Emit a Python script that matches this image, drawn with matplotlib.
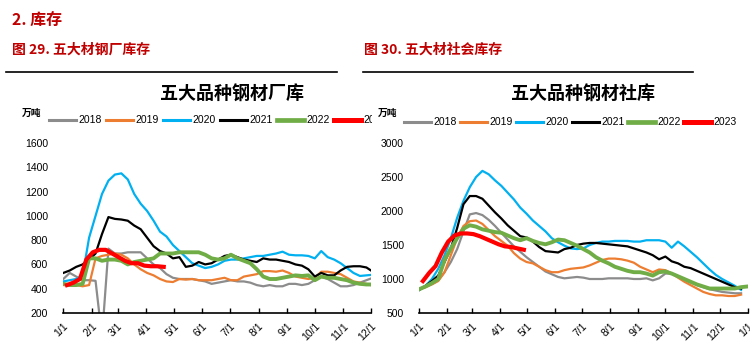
import numpy as np
import matplotlib
matplotlib.use("Agg")
from matplotlib import pyplot as plt
from matplotlib.lines import Line2D

plt.rcParams['font.family'] = ['Liberation Sans', 'Noto Sans CJK SC', 'DejaVu Sans']

years = ['2018', '2019', '2020', '2021', '2022', '2023']
colors = ['#8C8C8C', '#ED7D31', '#00B0F0', '#000000', '#70AD47', '#FF0000']
widths = [1.6, 1.6, 1.6, 1.6, 2.8, 3.0]
# first weekly observation, day of year
start_day = [0, 0, 0, 0, 0, 4]

month_days = [0, 31, 59, 90, 120, 151, 181, 212, 243, 273, 304, 334, 365]
month_labels = ['1/1', '2/1', '3/1', '4/1', '5/1', '6/1', '7/1', '8/1',
                '9/1', '10/1', '11/1', '12/1', '1/1']

# 钢厂库存 (万吨), weekly
mill_2018 = [480, 530, 500, 470, 470, 465, 0, 730, 690, 690, 700, 700, 700, 650, 600, 570,
             520, 490, 480, 480, 480, 470, 460, 440, 450, 460, 470, 460, 460, 450, 430, 420,
             430, 420, 420, 440, 440, 430, 440, 470, 500, 480, 450, 420, 420, 430, 450, 470, 490]
mill_2019 = [430, 430, 430, 420, 430, 650, 670, 680, 690, 680, 650, 600, 560, 530, 510, 480,
             460, 455, 480, 475, 480, 470, 470, 470, 480, 490, 470, 470, 500, 510, 520, 545,
             545, 540, 550, 530, 500, 490, 480, 490, 540, 540, 530, 520, 490, 460, 450, 440, 425]
mill_2020 = [460, 470, 480, 510, 820, 1000, 1180, 1290, 1340, 1350, 1300, 1180, 1100, 1040, 960, 870,
             830, 760, 710, 660, 610, 590, 570, 580, 600, 630, 640, 640, 650, 660, 670, 670,
             680, 690, 705, 680, 675, 675, 670, 650, 710, 660, 640, 610, 570, 530, 505, 510, 515]
mill_2021 = [530, 550, 580, 600, 640, 690, 850, 990, 975, 970, 960, 920, 890, 820, 750, 710,
             690, 650, 660, 580, 590, 620, 600, 610, 640, 670, 680, 660, 640, 630, 620, 650,
             640, 640, 630, 620, 600, 590, 560, 500, 530, 510, 510, 550, 580, 585, 585, 575, 540]
mill_2022 = [440, 430, 430, 440, 650, 650, 630, 640, 640, 630, 600, 620, 630, 640, 650, 690,
             690, 690, 700, 700, 700, 700, 680, 650, 640, 650, 680, 650, 630, 610, 560, 500,
             480, 480, 490, 500, 510, 505, 510, 470, 500, 490, 490, 480, 470, 450, 440, 435, 435]
mill_2023 = [430, 450, 480, 640, 700, 720, 720, 690, 660, 630, 610, 610, 590, 585, 585, 580]

# 社会库存 (万吨), weekly
soc_2018 = [850, 890, 930, 980, 1100, 1250, 1440, 1700, 1950, 1970, 1940, 1870, 1780, 1680, 1580, 1480,
            1400, 1320, 1250, 1180, 1110, 1070, 1030, 1010, 1020, 1030, 1020, 1000, 1000, 1000, 1010, 1010,
            1010, 1010, 1000, 1000, 1010, 980, 1010, 1080, 1080, 1040, 990, 950, 910, 880, 850, 830,
            810, 800, 790, 790]
soc_2019 = [850, 880, 920, 970, 1100, 1350, 1600, 1780, 1850, 1860, 1810, 1720, 1630, 1560, 1490, 1380,
            1300, 1250, 1230, 1180, 1130, 1100, 1100, 1130, 1150, 1160, 1170, 1200, 1240, 1280, 1300, 1300,
            1290, 1270, 1240, 1180, 1140, 1100, 1140, 1130, 1080, 1020, 960, 910, 860, 810, 780, 760,
            760, 750, 750, 770]
soc_2020 = [840, 900, 1000, 1150, 1350, 1600, 1900, 2150, 2350, 2500, 2590, 2540, 2450, 2370, 2270, 2170,
            2050, 1960, 1860, 1780, 1700, 1600, 1540, 1490, 1450, 1440, 1450, 1500, 1530, 1550, 1550, 1560,
            1560, 1560, 1550, 1550, 1570, 1570, 1570, 1550, 1460, 1550, 1480, 1400, 1320, 1230, 1140, 1060,
            1000, 950, 900, 840]
soc_2021 = [840, 900, 970, 1050, 1250, 1450, 1750, 2100, 2220, 2220, 2180, 2080, 1980, 1890, 1790, 1710,
            1630, 1610, 1550, 1470, 1410, 1400, 1390, 1440, 1460, 1500, 1520, 1530, 1530, 1520, 1510, 1500,
            1490, 1480, 1450, 1420, 1390, 1350, 1290, 1330, 1260, 1230, 1180, 1160, 1120, 1080, 1040, 1000,
            960, 920, 880, 860]
soc_2022 = [850, 890, 940, 1000, 1280, 1450, 1600, 1740, 1790, 1770, 1730, 1710, 1690, 1680, 1640, 1600,
            1570, 1600, 1560, 1530, 1510, 1540, 1580, 1570, 1530, 1490, 1440, 1390, 1320, 1270, 1230, 1180,
            1150, 1120, 1100, 1100, 1080, 1050, 1100, 1110, 1080, 1040, 1000, 960, 920, 890, 860, 860,
            860, 860, 860, 880, 890]
soc_2023 = [970, 1090, 1190, 1390, 1550, 1640, 1670, 1670, 1660, 1630, 1590, 1550, 1510, 1480, 1470, 1450, 1430]

mill = [mill_2018, mill_2019, mill_2020, mill_2021, mill_2022, mill_2023]
soc = [soc_2018, soc_2019, soc_2020, soc_2021, soc_2022, soc_2023]

RED = '#C00000'
CJK = ['Noto Sans CJK SC', 'DejaVu Sans']

fig = plt.figure(figsize=(7.5, 3.49), dpi=100)


def px(x, y):
    return x / 750, 1 - y / 349


def draw_panel(rect, series, ylim, yticks, xmax, ticks, labels):
    ax = fig.add_axes(rect)
    for vals, c, w, s in zip(series, colors, widths, start_day):
        x = s + 7 * np.arange(len(vals))
        ax.plot(x, vals, color=c, lw=w, solid_joinstyle='round')
    ax.set_xlim(0, xmax)
    ax.set_ylim(*ylim)
    ax.set_yticks(yticks)
    ax.set_xticks(ticks)
    ax.set_xticklabels(labels, rotation=45, ha='right', va='top',
                       rotation_mode='anchor')
    for sp in ['top', 'right', 'left']:
        ax.spines[sp].set_visible(False)
    ax.spines['bottom'].set_linewidth(1.2)
    ax.tick_params(axis='x', direction='in', length=3.5, width=1, labelsize=7.5, pad=6)
    ax.tick_params(axis='y', length=0, labelsize=7.5, pad=11)
    ax.patch.set_alpha(0)
    return ax


draw_panel([63.3 / 750, 1 - 313 / 349, 307.7 / 750, 170 / 349], mill,
           (200, 1600), range(200, 1601, 200), 334, month_days[:12], month_labels[:12])
draw_panel([419.3 / 750, 1 - 313 / 349, 329 / 750, 170 / 349], soc,
           (500, 3000), range(500, 3001, 500), 365, month_days, month_labels)

# headings
fig.text(*px(12, 20), '2. 库存', color=RED, fontsize=11.5, fontweight='bold',
         family=CJK, va='center')
fig.text(*px(12, 50), '图 29. 五大材钢厂库存', color=RED, fontsize=10, fontweight='bold',
         family=CJK, va='center')
fig.text(*px(364, 50), '图 30. 五大材社会库存', color=RED, fontsize=10, fontweight='bold',
         family=CJK, va='center')
for x0, x1 in [(6, 337), (363, 693)]:
    fig.add_artist(Line2D([x0 / 750, x1 / 750], [1 - 72 / 349] * 2, color='black', lw=1.2))

fig.text(*px(232, 94), '五大品种钢材厂库', fontsize=13, fontweight='bold', family=CJK,
         ha='center', va='center')
fig.text(*px(583, 94), '五大品种钢材社库', fontsize=13, fontweight='bold', family=CJK,
         ha='center', va='center')
fig.text(*px(22, 113), '万吨', fontsize=7, fontweight='bold', family=CJK, va='center')
fig.text(*px(378, 113), '万吨', fontsize=7, fontweight='bold', family=CJK, va='center')

# legends (left one is cut off at the panel edge)
clip = matplotlib.transforms.Bbox.from_extents(0, 0, 372, 349)
for x0, step, y, cut in [(49, 57, 120, True), (404, 56, 122, False)]:
    for i, (yr, c, w) in enumerate(zip(years, colors, widths)):
        lx = x0 + i * step
        fig.add_artist(Line2D([lx / 750, (lx + 27) / 750], [1 - y / 349] * 2,
                              color=c, lw=w + 0.6))
        t = fig.text(*px(lx + 29, y), yr, fontsize=7.5, va='center')
        if cut:
            t.set_clip_box(clip)
            t.set_clip_on(True)

fig.savefig('out.png', dpi=100)
